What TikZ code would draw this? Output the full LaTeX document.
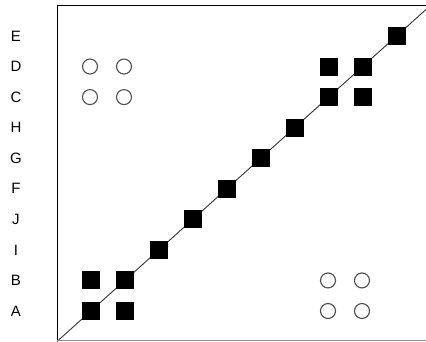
\documentclass[tikz,border=0pt]{standalone}
\usepackage{fontspec}
\setmainfont{Liberation Sans}
\begin{document}
\begin{tikzpicture}[x=1pt,y=-1pt,
  sq/.style={fill=black,draw=none,minimum size=18pt,inner sep=0pt,outer sep=0pt},
  circ/.style={circle,draw=black!70,line width=1.1pt,minimum size=15pt,inner sep=0pt},
  lab/.style={font=\fontsize{15}{17}\selectfont,inner sep=0pt,anchor=center},
  diag/.style={draw=black!80,line width=0.9pt},
  frame/.style={draw=black,line width=1pt}]
\clip (0,0) rectangle (426,341);
\useasboundingbox (0,0) rectangle (426,341);
% grid: index 0..9 -> A B I J F G H C D E
\coordinate (o) at (57,341.5);
\coordinate (t) at (431,5);
\draw[diag] (o) -- (t);
\coordinate (tl) at (57,5);
\coordinate (tr) at (430,5);
\coordinate (bl) at (57,340);
\coordinate (br) at (430,340);
\draw[frame] (tr) -- (tl) -- (bl);
\draw[draw=black!45,line width=1pt] (bl) -- (br);
\foreach \n [count=\i from 0] in {A,B,I,J,F,G,H,C,D,E}{
  \node[lab] (l-\n) at (16,311-30.56*\i) {\n};
  \node[sq] (s-\n-\n) at (91+34*\i,311-30.56*\i) {};
}
% clusters of squares
\foreach \cx/\ci in {A/0,B/1}{
  \foreach \ry/\ri in {A/0,B/1}{
    \node[sq] (q-\cx-\ry) at (91+34*\ci,311-30.56*\ri) {};
  }
}
\foreach \cx/\ci in {C/7,D/8}{
  \foreach \ry/\ri in {C/7,D/8}{
    \node[sq] (q-\cx-\ry) at (91+34*\ci,311-30.56*\ri) {};
  }
}
% circles
\foreach \cx/\ci in {A/0,B/1}{
  \foreach \ry/\ri in {C/7,D/8}{
    \node[circ] (c-\cx-\ry) at (90+34*\ci,311-30.56*\ri) {};
  }
}
\foreach \cx/\ci in {C/7,D/8}{
  \foreach \ry/\ri in {A/0,B/1}{
    \node[circ] (c-\cx-\ry) at (90+34*\ci,311-30.56*\ri) {};
  }
}
\end{tikzpicture}
\end{document}
